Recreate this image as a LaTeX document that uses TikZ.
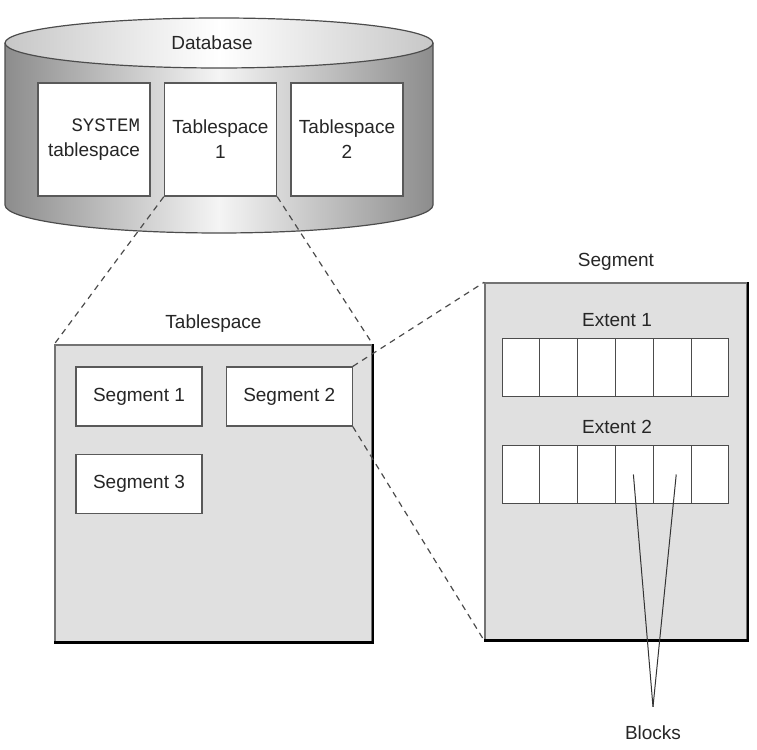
\documentclass[tikz,border=0pt]{standalone}
\usepackage{fontspec}
\setmainfont{Liberation Sans}
\setmonofont{Liberation Mono}
\usetikzlibrary{positioning}
\tikzset{x=1pt, y=1pt, node distance=20pt, font=\fontsize{19}{25}\selectfont}
\tikzstyle{txt} = [inner sep=0pt, text=black!85]
\tikzstyle{tsbox} = [draw=black!65, line width=1.5pt, fill=white, minimum width=112pt, minimum height=113pt, align=center, text=black!85]
\tikzstyle{container} = [draw=black!55, line width=1.5pt, fill=black!12]
\tikzstyle{segbox} = [draw=black!65, line width=1.2pt, fill=white, minimum width=126pt, minimum height=59pt, text=black!85]
\tikzstyle{blk} = [draw=black!70, line width=1pt, fill=white, minimum width=37.83pt, minimum height=58pt, inner sep=0pt, outer sep=0pt]
\tikzstyle{zoomline} = [draw=black!70, dash pattern=on 6pt off 5pt, line width=1.2pt]
\tikzstyle{rshadow} = [draw=black, line width=2.5pt]
\tikzstyle{pointer} = [draw=black!80, line width=1pt]

\begin{document}
\begin{tikzpicture}
		\useasboundingbox (0,0) rectangle (757,749);

		% database cylinder
		\coordinate (dbtop) at (219,706);
		\shade [left color=black!45, right color=black!45, middle color=black!4]
			(5,706) -- (5,544) arc [start angle=180, end angle=360, x radius=214, y radius=28] -- (433,706) -- cycle;
		\draw [black!70, line width=1.2pt]
			(5,706) -- (5,544) arc [start angle=180, end angle=360, x radius=214, y radius=28] -- (433,706);
		\draw [black!70, line width=1.2pt, left color=black!22, right color=black!22, middle color=white]
			(dbtop) ellipse [x radius=214, y radius=25];

		\node [txt] (db) at (212,706) {Database};

		\node [tsbox, align=right] (sys) at (94,609.5) {\texttt{SYSTEM}\\tablespace};
		\node [tsbox, right=13pt of sys] (ts1) {Tablespace\\1};
		\node [tsbox, right=13pt of ts1] (ts2) {Tablespace\\2};

		% tablespace
		\node [container, minimum width=317pt, minimum height=297pt] (tsp) at (213.5,255.5) {};
		\node [txt, above=12pt of tsp] (tsp_title) {Tablespace};
		\draw [rshadow] (tsp.north east) -- (tsp.south east) -- (tsp.south west);

		\node [segbox] (seg1) at (139,352.5) {Segment 1};
		\node [segbox, right=23pt of seg1] (seg2) {Segment 2};
		\node [segbox, below=27pt of seg1] (seg3) {Segment 3};

		% segment
		\node [container, minimum width=262pt, minimum height=357pt] (sgm) at (616,287.5) {};
		\node [txt, above=12pt of sgm] (sgm_title) {Segment};
		\draw [rshadow] (sgm.north east) -- (sgm.south east) -- (sgm.south west);

		\node [txt] (ext1) at (617,429) {Extent 1};
		\node [txt] (ext2) at (617,322) {Extent 2};
		\foreach \i in {1,...,6} {
			\node [blk] (a\i) at (483.08+37.83*\i,381) {};
			\node [blk] (b\i) at (483.08+37.83*\i,274.5) {};
		}

		\node [txt] (blocks) at (653,16) {Blocks};

		\draw [zoomline] (ts1.south west) -- (tsp.north west);
		\draw [zoomline] (ts1.south east) -- (tsp.north east);
		\draw [zoomline] (seg2.north east) -- (sgm.north west);
		\draw [zoomline] (seg2.south east) -- (sgm.south west);

		\draw [pointer] ([yshift=19pt]blocks.north) -- ([xshift=-1pt]b4.center);
		\draw [pointer] ([yshift=19pt]blocks.north) -- ([xshift=4pt]b5.center);

	\end{tikzpicture}
\end{document}
